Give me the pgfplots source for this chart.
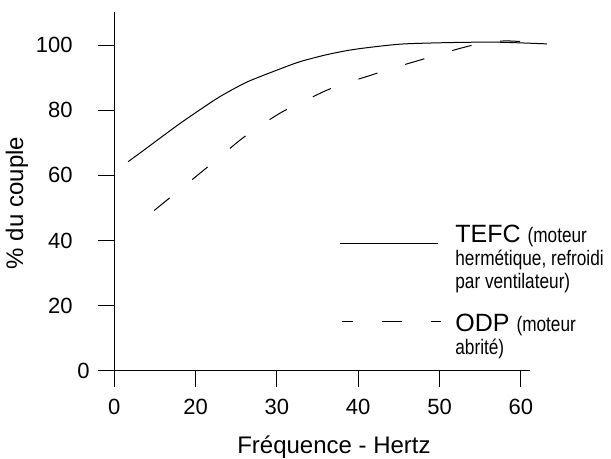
\documentclass[border=0pt]{standalone}
\usepackage{fontspec}
\setmainfont{Liberation Sans}
\newfontfamily\narrowfont[FakeStretch=0.82]{Liberation Sans}
\usepackage{pgfplots}
\pgfplotsset{compat=1.18}
\usepackage{pgfplotstable}

\pgfplotstableread{
u v
11.7 64.2
13.5 67.5
15.6 71.4
18.0 75.8
20.5 80.1
23.0 84.2
26.0 88.3
28.0 90.4
30.5 92.8
32.8 94.9
36.0 97.0
39.0 98.5
42.0 99.5
45.1 100.3
48.0 100.6
51.3 100.8
54.0 100.9
57.4 100.9
60.0 100.7
63.2 100.4
}\tefc

\pgfplotstableread{
u v
14.9 49.2
18.1 55.7
20.9 61.4
22.8 65.3
25.5 70.9
27.5 74.5
30.5 79.3
32.7 82.0
35.9 85.9
38.2 88.1
41.6 90.8
43.9 92.7
47.3 95.2
49.7 97.0
53.1 99.4
55.6 100.8
58.0 101.3
60.0 101.1
63.2 100.4
}\odp

\begin{document}
\begin{tikzpicture}
\begin{axis}[
  at={(0,0)}, anchor=south west,
  scale only axis, width=207.85pt, height=179.2pt,
  xmin=10, xmax=61.13, ymin=0, ymax=110.1,
  axis x line*=bottom, axis y line*=left,
  axis line style={line width=0.6pt, black},
  tick align=outside, major tick length=8pt,
  tick style={black, line width=0.5pt},
  xtick={10,20,30,40,50,60}, xticklabels={0,20,30,40,50,60},
  ytick={20,40,60,80,100},
  extra y ticks={0},
  yticklabel style={xshift=-9.3pt},
  xticklabel style={yshift=-2.9pt},
  extra y tick style={yticklabel style={xshift=8.5pt}},
  /pgf/number format/assume math mode=true,
  ticklabel style={font=\fontsize{11}{13}\selectfont},
  clip=false,
  xlabel={Fréquence - Hertz},
  ylabel={\% du couple},
  xlabel style={at={(axis description cs:0.5285,-0.2324)}, anchor=base, font=\fontsize{12}{14}\selectfont},
  ylabel style={at={(axis description cs:-0.234,0.468)}, anchor=center, font=\fontsize{12}{14}\selectfont},
]
\addplot[black, line width=0.5pt, smooth, no markers] table[x=u, y=v] {\tefc};
\addplot[black, line width=0.5pt, smooth, no markers, dash pattern=on 10pt off 14.5pt] table[x=u, y=v] {\odp};
\end{axis}
\draw[line width=0.5pt] (112.85pt,63.5pt) -- (161.85pt,63.5pt);
\draw[line width=0.5pt, dash pattern=on 10pt off 14.5pt, dash phase=4.5pt] (113.7pt,24.5pt) -- (163.2pt,24.5pt);
\node[anchor=base west, inner sep=0pt] at (170.35pt,63.85pt) {\fontsize{12.5}{14}\selectfont TEFC \narrowfont\fontsize{10.5}{12}\selectfont(moteur};
\node[anchor=base west, inner sep=0pt] at (170.35pt,52.35pt) {\narrowfont\fontsize{10.5}{12}\selectfont hermétique, refroidi};
\node[anchor=base west, inner sep=0pt] at (170.35pt,40.85pt) {\narrowfont\fontsize{10.5}{12}\selectfont par ventilateur)};
\node[anchor=base west, inner sep=0pt] at (170.35pt,19.35pt) {\fontsize{12.5}{14}\selectfont ODP \narrowfont\fontsize{10.5}{12}\selectfont(moteur};
\node[anchor=base west, inner sep=0pt] at (170.35pt,7.85pt) {\narrowfont\fontsize{10.5}{12}\selectfont abrité)};
\pgfresetboundingbox
\path (-57.15pt,-44.15pt) rectangle (248.35pt,185.35pt);
\end{tikzpicture}
\end{document}
